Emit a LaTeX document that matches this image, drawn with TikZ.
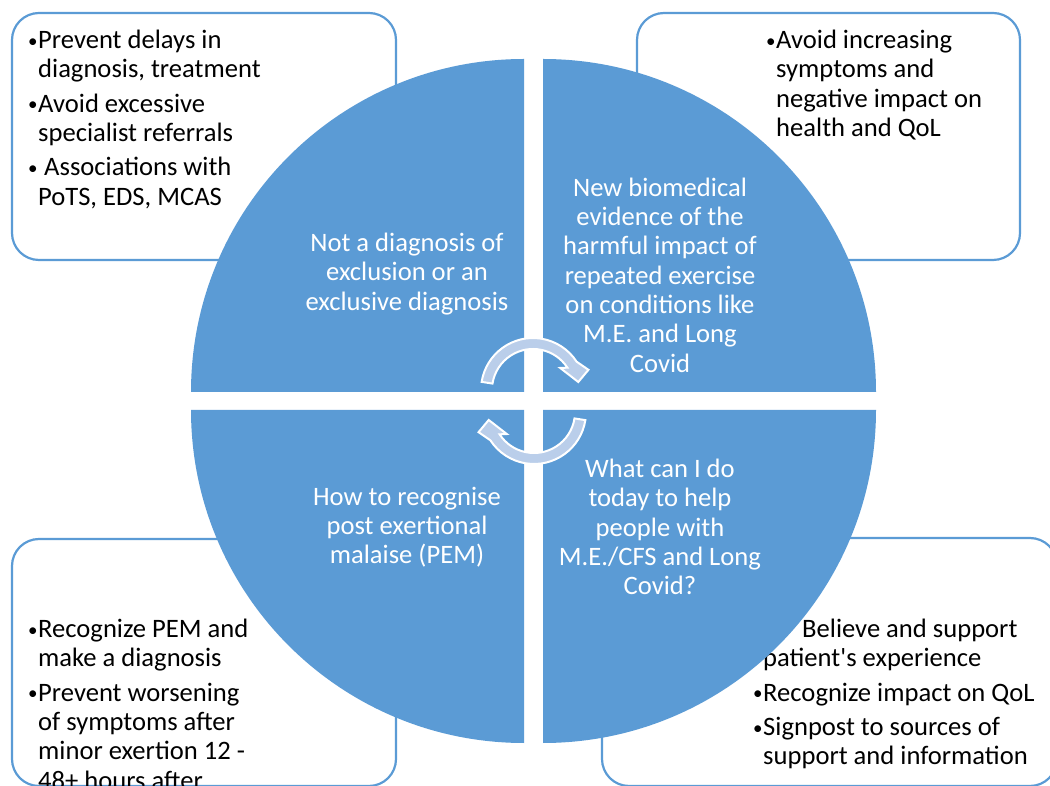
\documentclass[tikz,border=0pt]{standalone}
\usepackage{fontspec}
\setmainfont{Carlito}
\definecolor{smblue}{RGB}{91,155,213}
\definecolor{smlight}{RGB}{186,206,234}
\tikzset{>=stealth,
  infobox/.style={draw=smblue, line width=2.2pt, fill=white, rounded corners=27pt},
  quad/.style={fill=smblue},
  quadtext/.style={text=white, align=center, inner sep=0pt, font=\fontsize{26.6}{29.3}\selectfont},
  boxtext/.style={align=left, anchor=north west, inner sep=0pt, font=\fontsize{26.6}{29.3}\selectfont},
  cyc/.pic={\path[fill=smlight, draw=white, line width=2pt] (171:52) arc[start angle=171, end angle=33, radius=52]
      -- (20:59) -- (10:46) -- (39:35) -- (33:41) arc[start angle=33, end angle=171, radius=41] -- cycle;}
}
\newcommand{\bl}{\makebox[10pt][l]{\raisebox{1.5pt}{\fontsize{19}{19}\selectfont •}}}
\newcommand{\ind}{\hspace*{10pt}}

\begin{document}
\begin{tikzpicture}[x=1pt, y=1pt]
    \useasboundingbox (0,0) rectangle (1050,785);
    \clip (0,0) rectangle (1050,785);
    % outer boxes
    \draw[infobox] (12,525) rectangle (396,772);
    \draw[infobox] (637,525) rectangle (1020,772);
    \draw[infobox] (12,-1) rectangle (396,246);
    \draw[infobox] (602,-1) rectangle (1057,247);
    \node[boxtext] (tlnotes) at (28,755) {\bl Prevent delays in\\ \ind diagnosis, treatment\\[5pt]
        \bl Avoid excessive\\ \ind specialist referrals\\[5pt] \bl\ Associations with\\ \ind PoTS, EDS, MCAS};
    \node[boxtext] (trnotes) at (766,755) {\bl Avoid increasing\\ \ind symptoms and\\ \ind negative impact on\\ \ind health and QoL};
    \node[boxtext] (blnotes) at (28,166) {\bl Recognize PEM and\\ \ind make a diagnosis\\[5pt]
        \bl Prevent worsening\\ \ind of symptoms after\\ \ind minor exertion 12 -\\ \ind 48+ hours after};
    \node[boxtext] (brnotes) at (753,166) {\bl\hspace*{39pt}Believe and support\\ \ind patient\textquotesingle s experience\\[5pt]
        \bl Recognize impact on QoL\\[5pt] \bl Signpost to sources of\\ \ind support and information};
    % quadrants
    \fill[quad] (524,393) -- (191,393) arc[start angle=180, end angle=90, radius=333] -- cycle;
    \fill[quad] (543,393) -- (543,726) arc[start angle=90, end angle=0, radius=333] -- cycle;
    \fill[quad] (524,375) -- (524,42) arc[start angle=270, end angle=180, radius=333] -- cycle;
    \fill[quad] (543,375) -- (876,375) arc[start angle=0, end angle=-90, radius=333] -- cycle;
    \node[quadtext] (excl) at (407,511) {Not a diagnosis of\\exclusion or an\\exclusive diagnosis};
    \node[quadtext] (evid) at (660,510) {New biomedical\\evidence of the\\harmful impact of\\repeated exercise\\on conditions like\\M.E. and Long\\Covid};
    \node[quadtext] (pem) at (407,258) {How to recognise\\post exertional\\malaise (PEM)};
    \node[quadtext] (today) at (660,258) {What can I do\\today to help\\people with\\M.E./CFS and Long\\Covid?};
    % cycle arrows
    \coordinate (upper) at (533,395);
    \coordinate (lower) at (534,373);
    \pic at (upper) {cyc};
    \pic[rotate=180] at (lower) {cyc};
\end{tikzpicture}
\end{document}
